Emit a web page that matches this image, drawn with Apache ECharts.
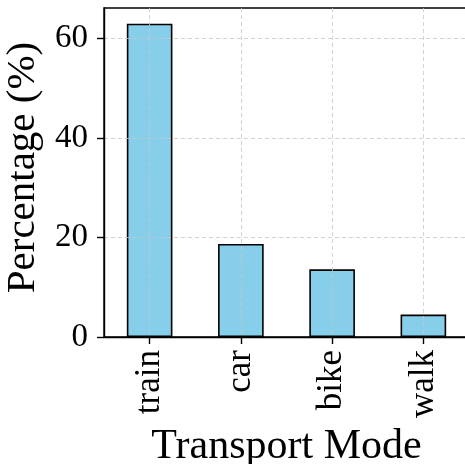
<!DOCTYPE html>
<html>
<head>
<meta charset="utf-8">
<script src="https://cdn.jsdelivr.net/npm/echarts@6/dist/echarts.min.js"></script>
<style>
  html, body { margin: 0; padding: 0; background: #fff; }
  #chart { width: 465px; height: 464px; }
</style>
</head>
<body>
<div id="chart"></div>
<script>
// Share of trips by transport mode
const modes = ['train', 'car', 'bike', 'walk'];
const percentages = [63.0, 18.7, 13.6, 4.5];
const yTicks = [0, 20, 40, 60];

const FONT = '"Liberation Serif", "DejaVu Serif", serif';
const yMax = Math.max(...percentages) * 1.05;

const chart = echarts.init(document.getElementById('chart'), null, { renderer: 'canvas' });
chart.setOption({
  animation: false,
  backgroundColor: '#ffffff',
  grid: {
    left: 104,
    top: 8,
    right: -4,
    bottom: 127,
    show: true,
    borderColor: '#000',
    borderWidth: 1.4,
    containLabel: false,
    outerBoundsMode: 'none'
  },
  xAxis: {
    type: 'category',
    data: modes,
    z: 5,
    name: 'Transport Mode',
    nameLocation: 'middle',
    nameGap: 86,
    nameTextStyle: { fontFamily: FONT, fontSize: 42, color: '#000' },
    axisLine: { show: true, lineStyle: { color: '#000', width: 1.4 } },
    axisTick: { show: true, alignWithLabel: true, length: 7, lineStyle: { color: '#000', width: 1.4 } },
    axisLabel: { rotate: 90, margin: 13, fontFamily: FONT, fontSize: 35, color: '#000' },
    splitLine: { show: true, alignWithLabel: true, lineStyle: { color: '#c8c8c8', type: [4, 3], width: 0.8 } }
  },
  yAxis: {
    type: 'value',
    min: 0,
    max: yMax,
    interval: 20,
    z: 5,
    name: 'Percentage (%)',
    nameLocation: 'middle',
    nameGap: 55,
    nameTextStyle: { fontFamily: FONT, fontSize: 41, color: '#000', padding: [0, 0, 0, 10] },
    axisLine: { show: true, lineStyle: { color: '#000', width: 1.4 } },
    axisTick: { show: true, length: 7, customValues: yTicks, lineStyle: { color: '#000', width: 1.4 } },
    axisLabel: { margin: 16, customValues: yTicks, fontFamily: FONT, fontSize: 33, color: '#000' },
    splitLine: { show: true, lineStyle: { color: '#c8c8c8', type: [4, 3], width: 0.8 } }
  },
  series: [{
    type: 'bar',
    data: percentages,
    barWidth: '50%',
    z: 2,
    itemStyle: { color: '#87CEEB', borderColor: '#000', borderWidth: 1.6 }
  }]
});
</script>
</body>
</html>
